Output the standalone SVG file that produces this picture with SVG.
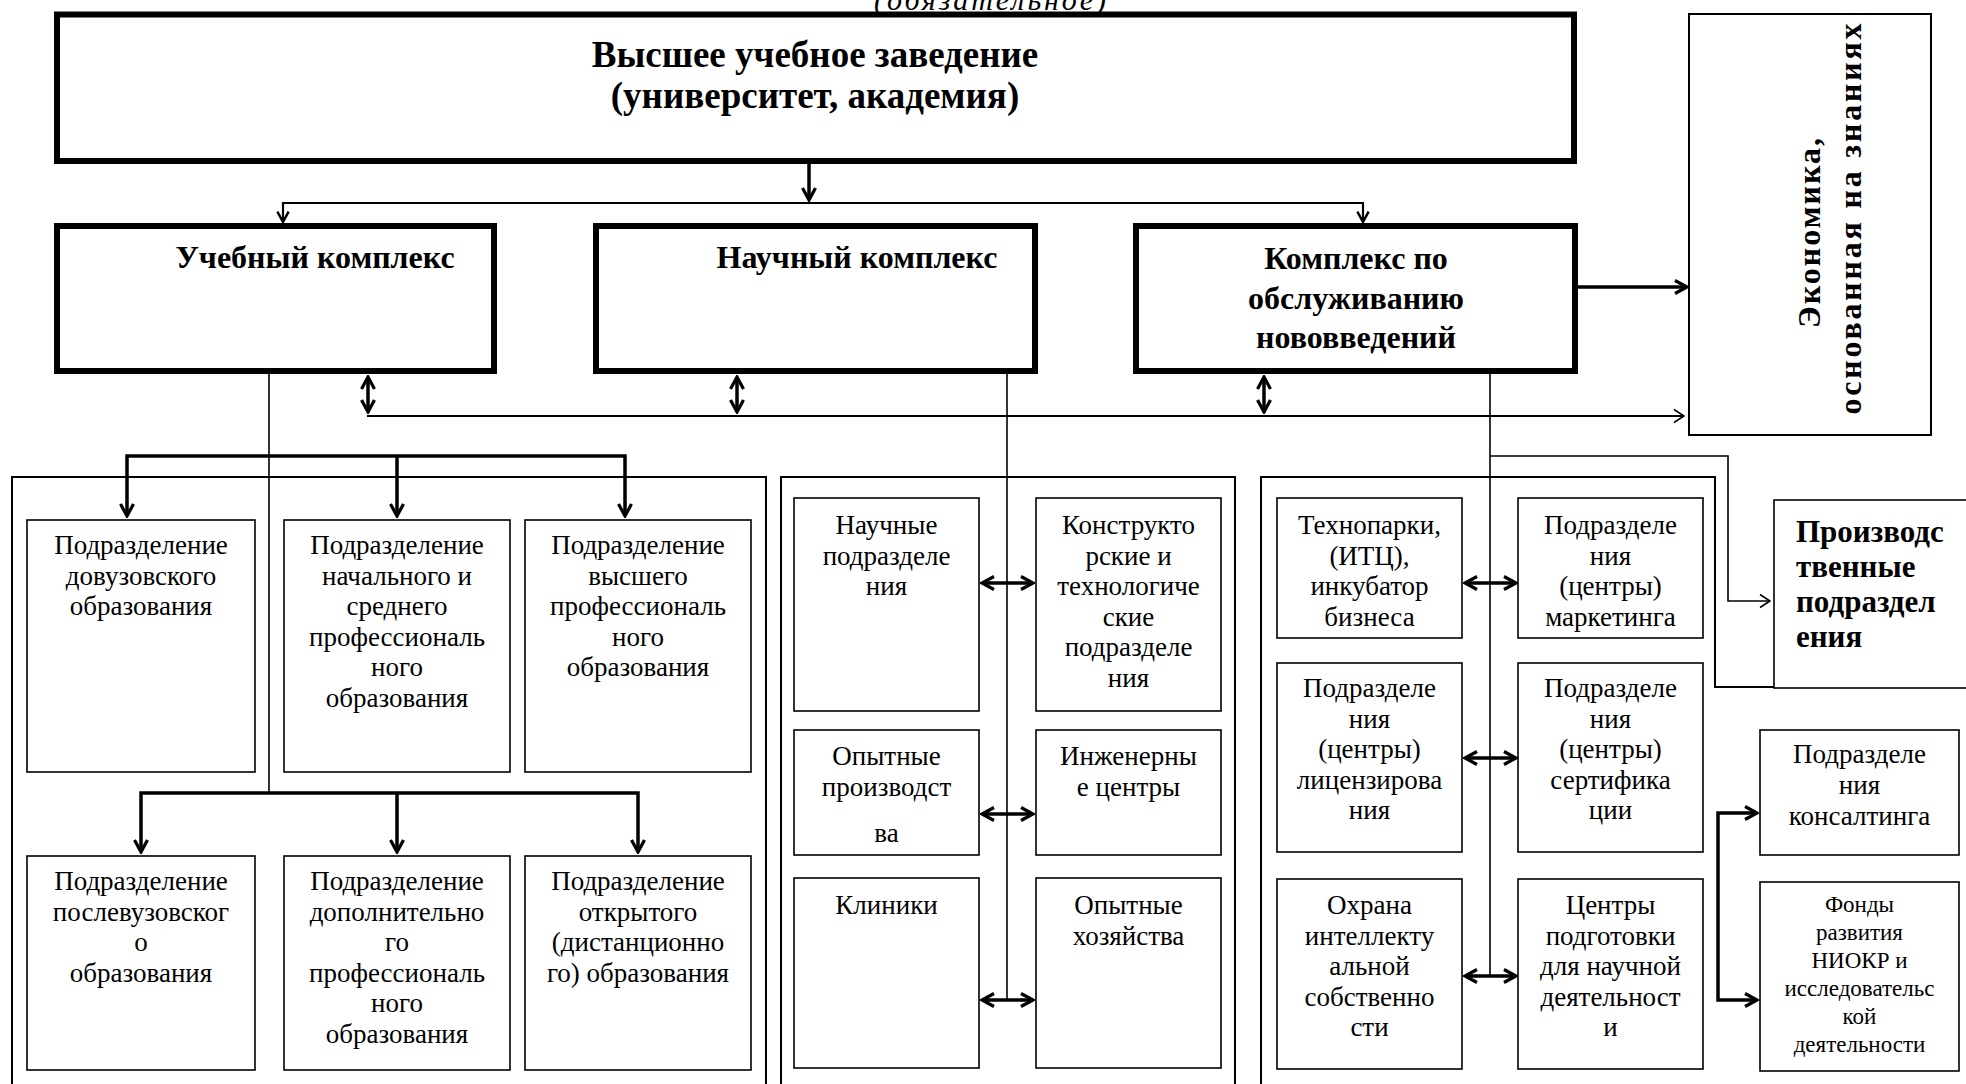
<svg xmlns="http://www.w3.org/2000/svg" width="1966" height="1084" viewBox="0 0 1966 1084">
<style>
.hdr{font-family:"Liberation Serif","Times New Roman",serif;font-weight:bold;font-size:32px;text-anchor:middle;fill:#000}
.ttl{font-size:37px}
.hdl{font-family:"Liberation Serif","Times New Roman",serif;font-weight:bold;font-size:31px;fill:#000}
.t{font-family:"Liberation Serif","Times New Roman",serif;font-size:27px;text-anchor:middle;fill:#000}
.ts{font-family:"Liberation Serif","Times New Roman",serif;font-size:23px;text-anchor:middle;fill:#000}
.it{font-family:"Liberation Serif","Times New Roman",serif;font-style:italic;font-size:30px;text-anchor:middle;fill:#000}
.thick{fill:#fff;stroke:#000;stroke-width:6}
.box{fill:#fff;stroke:#000;stroke-width:1.6}
.outer{fill:none;stroke:#000;stroke-width:2}
.ln{fill:none;stroke:#000;stroke-width:1.6}
.lm{fill:none;stroke:#000;stroke-width:2.2}
.lt{fill:none;stroke:#000;stroke-width:3.5}
</style>
<defs>
<marker id="ahT" viewBox="0 0 16 16" refX="14" refY="8" markerWidth="16" markerHeight="16" markerUnits="userSpaceOnUse" orient="auto-start-reverse">
<path d="M2,1.5 L14,8 L2,14.5" fill="none" stroke="#000" stroke-width="3.2"/>
</marker>
<marker id="ahM" viewBox="0 0 16 16" refX="14" refY="8" markerWidth="15" markerHeight="15" markerUnits="userSpaceOnUse" orient="auto-start-reverse">
<path d="M3,2 L14,8 L3,14" fill="none" stroke="#000" stroke-width="2.6"/>
</marker>
<marker id="ahN" viewBox="0 0 14 16" refX="13" refY="8" markerWidth="14" markerHeight="16" markerUnits="userSpaceOnUse" orient="auto-start-reverse">
<path d="M3,1.5 L13,8 L3,14.5" fill="none" stroke="#000" stroke-width="1.6"/>
</marker>
</defs>
<rect width="1966" height="1084" fill="#fff"/>

<text class="it" x="990" y="10" textLength="232">(обязательное)</text>

<g id="containers">
<path class="outer" d="M12,1090 V477 H766 V1090"/>
<path class="outer" d="M781,1090 V477 H1235 V1090"/>
<path class="outer" d="M1261,1090 V477 H1715 V687 H1970"/>
</g>

<g id="connectors">
<path class="lt" d="M809,164 V200" marker-end="url(#ahT)"/>
<path class="lm" d="M283,222 V203 H1363 V222" marker-start="url(#ahM)" marker-end="url(#ahM)"/>
<path class="lt" d="M1578,287 H1687" marker-end="url(#ahT)"/>
<path class="lt" d="M368,377 V412" marker-start="url(#ahT)" marker-end="url(#ahT)"/>
<path class="lt" d="M737,377 V412" marker-start="url(#ahT)" marker-end="url(#ahT)"/>
<path class="lt" d="M1264,377 V412" marker-start="url(#ahT)" marker-end="url(#ahT)"/>
<path class="lm" d="M367,416 H1684" marker-end="url(#ahN)"/>
<path class="ln" d="M269,374 V793"/>
<path class="ln" d="M1007,374 V1000"/>
<path class="ln" d="M1490,374 V976"/>
<path class="lt" d="M127,516 V456 H625 V516" marker-start="url(#ahT)" marker-end="url(#ahT)"/>
<path class="lt" d="M397,456 V516" marker-end="url(#ahT)"/>
<path class="lt" d="M141,852 V793 H638 V852" marker-start="url(#ahT)" marker-end="url(#ahT)"/>
<path class="lt" d="M397,793 V852" marker-end="url(#ahT)"/>
<path class="lt" d="M982,583 H1033" marker-start="url(#ahT)" marker-end="url(#ahT)"/>
<path class="lt" d="M982,814 H1033" marker-start="url(#ahT)" marker-end="url(#ahT)"/>
<path class="lt" d="M982,1000 H1033" marker-start="url(#ahT)" marker-end="url(#ahT)"/>
<path class="lt" d="M1465,583 H1516" marker-start="url(#ahT)" marker-end="url(#ahT)"/>
<path class="lt" d="M1465,758 H1516" marker-start="url(#ahT)" marker-end="url(#ahT)"/>
<path class="lt" d="M1465,976 H1516" marker-start="url(#ahT)" marker-end="url(#ahT)"/>
<path class="ln" d="M1490,456 H1728 V601 H1770" marker-end="url(#ahN)"/>
<path class="lt" d="M1757,813 H1718 V1000 H1757" marker-start="url(#ahT)" marker-end="url(#ahT)"/>
</g>

<g id="vuz">
<rect class="thick" x="57" y="14.5" width="1517" height="146.5"/>
<text class="hdr ttl" x="815" y="67">Высшее учебное заведение</text>
<text class="hdr ttl" x="815" y="108">(университет, академия)</text>
</g>

<g id="ucheb">
<rect class="thick" x="57" y="226" width="437" height="145" stroke-width="5.5"/>
<text class="hdr" x="315" y="268">Учебный комплекс</text>
</g>
<g id="nauch">
<rect class="thick" x="596" y="226" width="439" height="145" stroke-width="5.5"/>
<text class="hdr" x="857" y="268">Научный комплекс</text>
</g>
<g id="innov">
<rect class="thick" x="1136" y="226" width="439" height="145" stroke-width="5.5"/>
<text class="hdr" x="1356" y="269">Комплекс по</text>
<text class="hdr" x="1356" y="309">обслуживанию</text>
<text class="hdr" x="1356" y="348">нововведений</text>
</g>

<g id="econ">
<rect x="1689" y="14" width="242" height="421" fill="#fff" stroke="#000" stroke-width="2"/>
<text class="hdr" transform="translate(1820,233) rotate(-90)" textLength="190">Экономика,</text>
<text class="hdr" transform="translate(1861,219) rotate(-90)" textLength="391">основанная на знаниях</text>
</g>

<g id="u1"><rect class="box" x="27" y="520" width="228" height="252"/>
<text class="t" x="141" y="554">Подразделение</text><text class="t" x="141" y="584.5">довузовского</text><text class="t" x="141" y="615">образования</text></g>
<g id="u2"><rect class="box" x="284" y="520" width="226" height="252"/>
<text class="t" x="397" y="554">Подразделение</text><text class="t" x="397" y="584.5">начального и</text><text class="t" x="397" y="615">среднего</text><text class="t" x="397" y="645.5">профессиональ</text><text class="t" x="397" y="676">ного</text><text class="t" x="397" y="706.5">образования</text></g>
<g id="u3"><rect class="box" x="525" y="520" width="226" height="252"/>
<text class="t" x="638" y="554">Подразделение</text><text class="t" x="638" y="584.5">высшего</text><text class="t" x="638" y="615">профессиональ</text><text class="t" x="638" y="645.5">ного</text><text class="t" x="638" y="676">образования</text></g>
<g id="u4"><rect class="box" x="27" y="856" width="228" height="214"/>
<text class="t" x="141" y="890">Подразделение</text><text class="t" x="141" y="920.5">послевузовског</text><text class="t" x="141" y="951">о</text><text class="t" x="141" y="981.5">образования</text></g>
<g id="u5"><rect class="box" x="284" y="856" width="226" height="214"/>
<text class="t" x="397" y="890">Подразделение</text><text class="t" x="397" y="920.5">дополнительно</text><text class="t" x="397" y="951">го</text><text class="t" x="397" y="981.5">профессиональ</text><text class="t" x="397" y="1012">ного</text><text class="t" x="397" y="1042.5">образования</text></g>
<g id="u6"><rect class="box" x="525" y="856" width="226" height="214"/>
<text class="t" x="638" y="890">Подразделение</text><text class="t" x="638" y="920.5">открытого</text><text class="t" x="638" y="951">(дистанционно</text><text class="t" x="638" y="981.5">го) образования</text></g>

<g id="s1"><rect class="box" x="794" y="498" width="185" height="213"/>
<text class="t" x="886.5" y="534">Научные</text><text class="t" x="886.5" y="564.5">подразделе</text><text class="t" x="886.5" y="595">ния</text></g>
<g id="s2"><rect class="box" x="1036" y="498" width="185" height="213"/>
<text class="t" x="1128.5" y="534">Конструкто</text><text class="t" x="1128.5" y="564.5">рские и</text><text class="t" x="1128.5" y="595">технологиче</text><text class="t" x="1128.5" y="625.5">ские</text><text class="t" x="1128.5" y="656">подразделе</text><text class="t" x="1128.5" y="686.5">ния</text></g>
<g id="s3"><rect class="box" x="794" y="730" width="185" height="125"/>
<text class="t" x="886.5" y="765">Опытные</text><text class="t" x="886.5" y="795.5">производст</text><text class="t" x="886.5" y="842">ва</text></g>
<g id="s4"><rect class="box" x="1036" y="730" width="185" height="125"/>
<text class="t" x="1128.5" y="765">Инженерны</text><text class="t" x="1128.5" y="795.5">е центры</text></g>
<g id="s5"><rect class="box" x="794" y="878" width="185" height="190"/>
<text class="t" x="886.5" y="914">Клиники</text></g>
<g id="s6"><rect class="box" x="1036" y="878" width="185" height="190"/>
<text class="t" x="1128.5" y="914">Опытные</text><text class="t" x="1128.5" y="944.5">хозяйства</text></g>

<g id="i1"><rect class="box" x="1277" y="498" width="185" height="140"/>
<text class="t" x="1369.5" y="534">Технопарки,</text><text class="t" x="1369.5" y="564.5">(ИТЦ),</text><text class="t" x="1369.5" y="595">инкубатор</text><text class="t" x="1369.5" y="625.5">бизнеса</text></g>
<g id="i2"><rect class="box" x="1518" y="498" width="185" height="140"/>
<text class="t" x="1610.5" y="534">Подразделе</text><text class="t" x="1610.5" y="564.5">ния</text><text class="t" x="1610.5" y="595">(центры)</text><text class="t" x="1610.5" y="625.5">маркетинга</text></g>
<g id="i3"><rect class="box" x="1277" y="663" width="185" height="189"/>
<text class="t" x="1369.5" y="697">Подразделе</text><text class="t" x="1369.5" y="727.5">ния</text><text class="t" x="1369.5" y="758">(центры)</text><text class="t" x="1369.5" y="788.5">лицензирова</text><text class="t" x="1369.5" y="819">ния</text></g>
<g id="i4"><rect class="box" x="1518" y="663" width="185" height="189"/>
<text class="t" x="1610.5" y="697">Подразделе</text><text class="t" x="1610.5" y="727.5">ния</text><text class="t" x="1610.5" y="758">(центры)</text><text class="t" x="1610.5" y="788.5">сертифика</text><text class="t" x="1610.5" y="819">ции</text></g>
<g id="i5"><rect class="box" x="1277" y="879" width="185" height="190"/>
<text class="t" x="1369.5" y="914">Охрана</text><text class="t" x="1369.5" y="944.5">интеллекту</text><text class="t" x="1369.5" y="975">альной</text><text class="t" x="1369.5" y="1005.5">собственно</text><text class="t" x="1369.5" y="1036">сти</text></g>
<g id="i6"><rect class="box" x="1518" y="879" width="185" height="190"/>
<text class="t" x="1610.5" y="914">Центры</text><text class="t" x="1610.5" y="944.5">подготовки</text><text class="t" x="1610.5" y="975">для научной</text><text class="t" x="1610.5" y="1005.5">деятельност</text><text class="t" x="1610.5" y="1036">и</text></g>

<g id="prod"><rect class="box" x="1774" y="500" width="200" height="188"/>
<text class="hdl" x="1796" y="542">Производс</text><text class="hdl" x="1796" y="577">твенные</text><text class="hdl" x="1796" y="612">подраздел</text><text class="hdl" x="1796" y="647">ения</text></g>

<g id="consult"><rect class="box" x="1760" y="730" width="199" height="125"/>
<text class="t" x="1859.5" y="763">Подразделе</text><text class="t" x="1859.5" y="794">ния</text><text class="t" x="1859.5" y="825">консалтинга</text></g>
<g id="fond"><rect class="box" x="1760" y="882" width="199" height="189"/>
<text class="ts" x="1859.5" y="912">Фонды</text><text class="ts" x="1859.5" y="940">развития</text><text class="ts" x="1859.5" y="968">НИОКР и</text><text class="ts" x="1859.5" y="996">исследовательс</text><text class="ts" x="1859.5" y="1024">кой</text><text class="ts" x="1859.5" y="1052">деятельности</text></g>
</svg>
